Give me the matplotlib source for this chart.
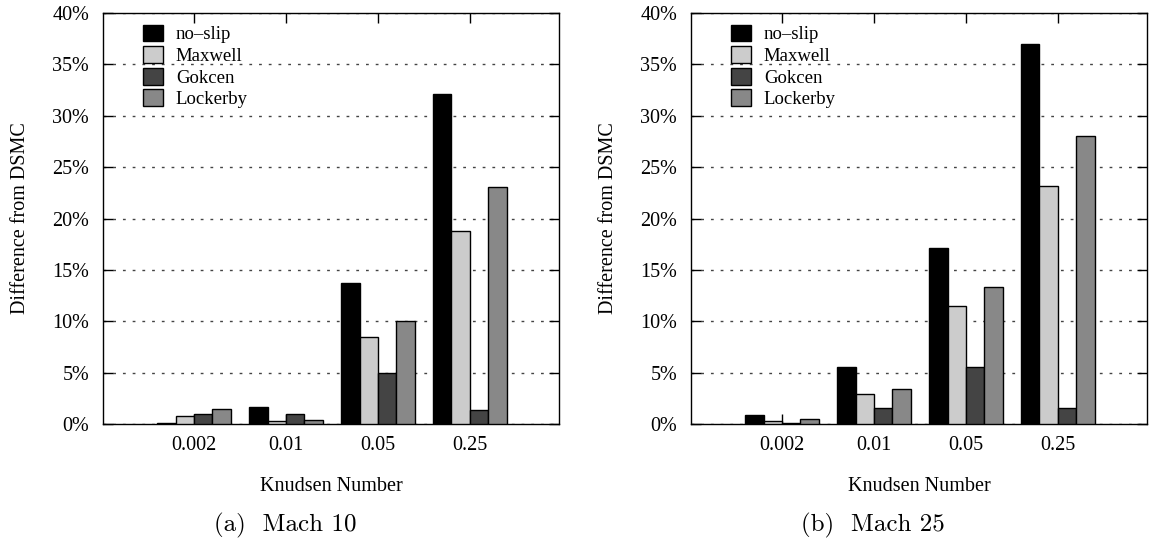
import numpy as np
import matplotlib
matplotlib.use("Agg")
import matplotlib.pyplot as plt
from matplotlib.ticker import FuncFormatter

knudsen = ["0.002", "0.01", "0.05", "0.25"]
modeles = ["no\u2013slip", "Maxwell", "Gokcen", "Lockerby"]
couleurs = ["#000000", "#cccccc", "#444444", "#888888"]

# écart au DSMC (%), Mach 10
mach10_noslip = [0.1, 1.7, 13.7, 32.1]
mach10_maxwell = [0.8, 0.3, 8.5, 18.8]
mach10_gokcen = [1.0, 1.0, 5.0, 1.4]
mach10_lockerby = [1.5, 0.4, 10.0, 23.1]

# écart au DSMC (%), Mach 25
mach25_noslip = [0.9, 5.5, 17.1, 37.0]
mach25_maxwell = [0.3, 2.9, 11.5, 23.2]
mach25_gokcen = [0.1, 1.6, 5.5, 1.6]
mach25_lockerby = [0.5, 3.4, 13.3, 28.0]

plt.rcParams['font.family'] = ['Liberation Serif', 'DejaVu Serif']

W, H = 1149, 542
fig = plt.figure(figsize=(W / 100, H / 100), dpi=100)

panneaux = [
    (103, [mach10_noslip, mach10_maxwell, mach10_gokcen, mach10_lockerby], "(a)  Mach 10", 285),
    (691, [mach25_noslip, mach25_maxwell, mach25_gokcen, mach25_lockerby], "(b)  Mach 25", 873),
]

x = np.arange(len(knudsen))
largeur = 0.2

for gauche, series, legende, xc in panneaux:
    ax = fig.add_axes([gauche / W, 1 - 424 / H, 456 / W, 411 / H])
    for i, (vals, nom, c) in enumerate(zip(series, modeles, couleurs)):
        ax.bar(x + (i - 1.5) * largeur, vals, largeur, color=c, edgecolor='black',
               linewidth=1.0, label=nom, zorder=3)

    ax.set_xlim(-0.99, 3.97)
    ax.set_ylim(0, 40)
    ax.set_xticks(x)
    ax.set_xticklabels(knudsen)
    ax.set_yticks(np.arange(0, 41, 5))
    ax.yaxis.set_major_formatter(FuncFormatter(lambda v, p: f"{v:.0f}%"))
    ax.tick_params(axis='both', direction='in', labelsize=14.5, width=1.0)
    ax.tick_params(axis='x', top=True, length=7.5, pad=9)
    ax.tick_params(axis='y', right=True, length=7, pad=10)
    for s in ax.spines.values():
        s.set_linewidth(1.0)

    # grille pointillée façon gnuplot
    ax.yaxis.grid(True, linestyle=(0, (2, 5)), color='#444444', linewidth=1.0, zorder=0)
    ax.set_axisbelow(True)

    ax.set_ylabel("Difference from DSMC", fontsize=14.5)
    ax.yaxis.set_label_coords(-0.16, 0.5)
    ax.set_xlabel("Knudsen Number", fontsize=14.5)
    ax.xaxis.set_label_coords(0.5, -0.13)

    ax.legend(loc='upper left', bbox_to_anchor=(0.088, 0.972), frameon=False,
              fontsize=13.5, borderpad=0, borderaxespad=0, handlelength=1.05,
              handleheight=1.0, handletextpad=0.7, labelspacing=0.15)

    fig.text(xc / W, 1 - 525 / H, legende, ha='center', va='center',
             fontsize=18, family=['cmr10', 'DejaVu Serif'])

fig.savefig("out.png", dpi=100)
